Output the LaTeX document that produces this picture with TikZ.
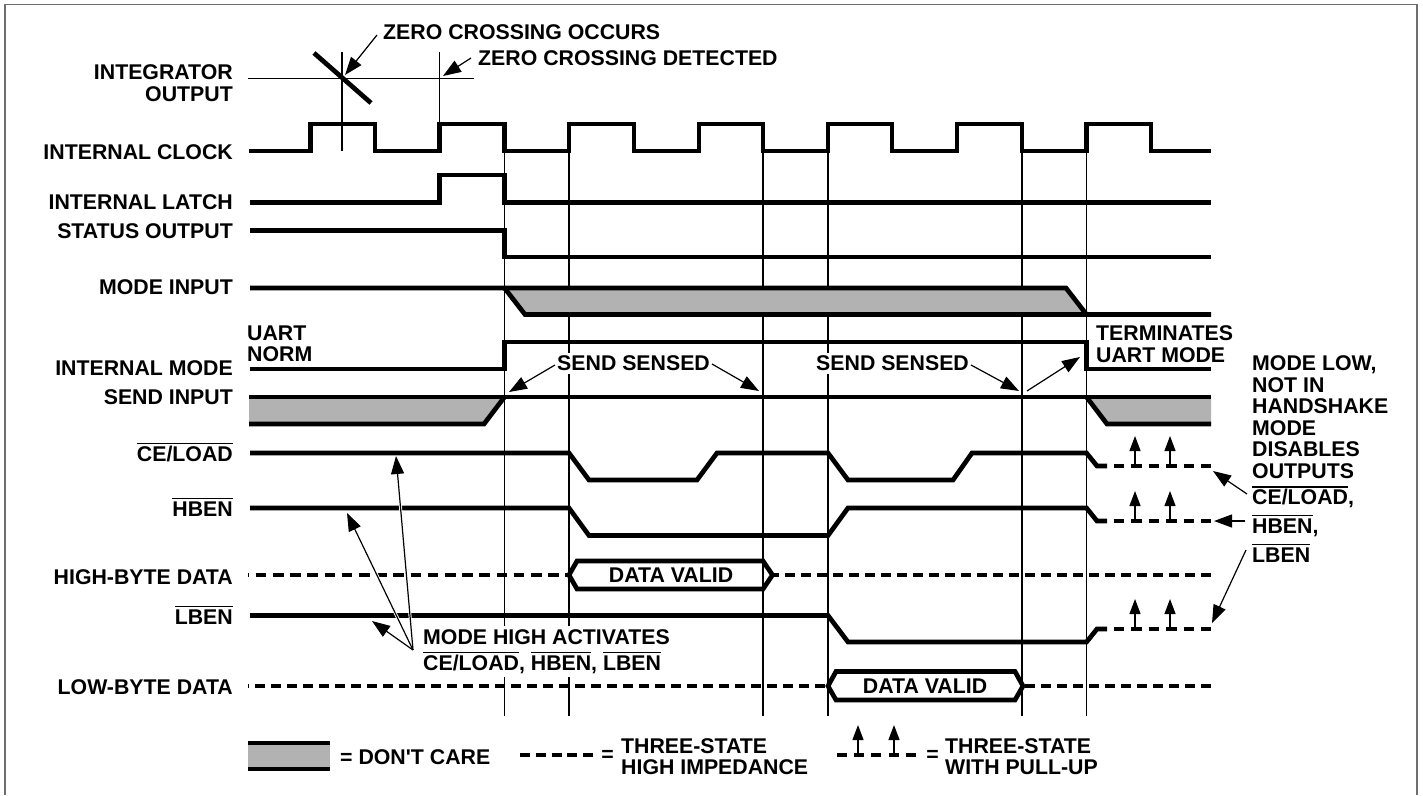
\documentclass[tikz,border=0pt]{standalone}
\usepackage{fontspec}
\setmainfont{Liberation Sans}
\usetikzlibrary{arrows.meta}
\definecolor{dcgray}{HTML}{B2B2B2}
\definecolor{framegray}{HTML}{6E6E6E}
\newcommand{\ovl}[1]{\setbox0=\hbox{#1}\rlap{\raisebox{17.3pt}{\rule{\wd0}{1.2pt}}}\box0}
\tikzset{
  lbl/.style={font=\fontsize{21.3}{21.3}\bfseries\selectfont,inner sep=0pt},
  rlab/.style={lbl,anchor=east,align=right},
  llab/.style={lbl,anchor=north west,align=left},
  blk/.style={lbl,anchor=north west,align=left,fill=white,inner xsep=3pt,inner ysep=3pt},
  sig/.style={line width=4.7pt,miter limit=10},
  tri/.style={line width=4.7pt,dash pattern=on 10.5pt off 7pt},
  dataL/.style={line width=4.7pt,dash pattern=on 10.6pt off 6.6pt},
  dataR/.style={line width=4.7pt,dash pattern=on 10.4pt off 5.6pt},
  thin line/.style={line width=1.1pt},
  call/.style={line width=1.2pt,-{Triangle[length=18pt,width=13pt]}},
  pull/.style={line width=1.2pt,-{Triangle[length=15pt,width=11pt]}},
  halo/.style={line width=3pt,white},
}
\begin{document}
\begin{tikzpicture}[x=1pt,y=-1pt]
\useasboundingbox (0,0) rectangle (1423,795);
\fill[white] (0,0) rectangle (1423,795);
% frame (open at the cropped bottom)
\draw[framegray,line width=1.6pt] (5,795) -- (5,4.5) -- (1417,4.5) -- (1417,795);

% thin guide lines
\draw[thin line] (248,78.3) -- (474,78.3);
\draw[thin line] (342,52) -- (342,151);
\draw[thin line] (439.5,52) -- (439.5,124);
\foreach \x in {504.5,569,763,828,1022,1086.5}
  \draw[thin line] (\x,151) -- (\x,715.5);

% gray regions
\fill[dcgray] (504.5,288) -- (1066,288) -- (1086.5,314.5) -- (525,314.5) -- cycle;
\fill[dcgray] (249,397) -- (504.5,397) -- (484,424) -- (249,424) -- cycle;
\fill[dcgray] (1086.5,397) -- (1211,397) -- (1211,424) -- (1107,424) -- cycle;

% labels
\node[rlab] (lInteg) at (233,83) {INTEGRATOR\\[0.5pt]OUTPUT};
\node[rlab] (lClock) at (233,152) {INTERNAL CLOCK};
\node[rlab] (lLatch) at (233,202) {INTERNAL LATCH};
\node[rlab] (lStatus) at (233,231.5) {STATUS OUTPUT};
\node[rlab] (lMode) at (233,287.5) {MODE INPUT};
\node[rlab] (lIMode) at (233,368) {INTERNAL MODE};
\node[rlab] (lSend) at (233,397) {SEND INPUT};
\node[rlab,anchor=base east] (lCE) at (233,461.5) {\ovl{CE/LOAD}};
\node[rlab,anchor=base east] (lHB) at (233,516.7) {\ovl{HBEN}};
\node[rlab] (lHD) at (233,576.7) {HIGH-BYTE DATA};
\node[rlab,anchor=base east] (lLB) at (233,624.7) {\ovl{LBEN}};
\node[rlab] (lLD) at (233,687) {LOW-BYTE DATA};

% annotations
\node[llab] (zOcc) at (383,24.5) {ZERO CROSSING OCCURS};
\node[llab] (zDet) at (478,50) {ZERO CROSSING DETECTED};
\node[llab] (uart) at (247,325.5) {UART\\[0.2pt]NORM};
\node[llab] (term) at (1096,325.5) {TERMINATES\\[0.2pt]UART MODE};
\node[blk] (ss1) at (554,352.5) {SEND SENSED};
\node[blk] (ss2) at (813,352.5) {SEND SENSED};
\node[blk] (act) at (420,626) {MODE HIGH ACTIVATES\\[5pt]\ovl{CE/LOAD}, \ovl{HBEN}, \ovl{LBEN}};
\node[llab] (low) at (1252,355.5) {MODE LOW,\\[0.3pt]NOT IN\\[0.3pt]HANDSHAKE\\[0.3pt]MODE\\[0.3pt]DISABLES\\[0.3pt]OUTPUTS\\[5pt]\ovl{CE/LOAD},\\[6pt]\ovl{HBEN},\\[6pt]\ovl{LBEN}};

% integrator
\draw[line width=4.7pt] (314,53) -- (371,103);

% clock
\draw[sig] (249,151) -- (310.5,151) -- (310.5,124) -- (375,124) -- (375,151)
  -- (439.5,151) -- (439.5,124) -- (504.5,124) -- (504.5,151)
  -- (569,151) -- (569,124) -- (634,124) -- (634,151)
  -- (699,151) -- (699,124) -- (763,124) -- (763,151)
  -- (828,151) -- (828,124) -- (892,124) -- (892,151)
  -- (957,151) -- (957,124) -- (1022,124) -- (1022,151)
  -- (1086.5,151) -- (1086.5,124) -- (1151,124) -- (1151,151) -- (1211,151);
% latch
\draw[sig] (250,202.5) -- (439.5,202.5) -- (439.5,175) -- (504.5,175) -- (504.5,202.5) -- (1211,202.5);
% status
\draw[sig] (250,230.5) -- (504.5,230.5) -- (504.5,257) -- (1211,257);
% mode input
\draw[sig] (250,288) -- (1066,288) -- (1086.5,314.5);
\draw[sig] (504.5,288) -- (525,314.5) -- (1211,314.5);
% internal mode
\draw[sig] (250,369) -- (504.5,369) -- (504.5,342) -- (1086.5,342) -- (1086.5,369) -- (1211,369);
% send
\draw[sig] (249,397) -- (1211,397);
\draw[sig] (249,424) -- (484,424) -- (504.5,397);
\draw[sig] (1086.5,397) -- (1107,424) -- (1211,424);
% CE/LOAD
\draw[sig] (250,453) -- (569,453) -- (589,480) -- (697,480) -- (717,453) -- (828,453)
  -- (848,480) -- (953,480) -- (972,453) -- (1086.5,453) -- (1097,466) -- (1107,466);
\draw[tri] (1113.5,466) -- (1211,466);
% HBEN
\draw[sig] (250,508) -- (569,508) -- (589,535.5) -- (828,535.5) -- (848,508) -- (1086.5,508) -- (1097,521) -- (1107,521);
\draw[tri] (1113.5,521) -- (1211,521);
% high byte data
\draw[dataL,dash phase=9.5pt] (248,575) -- (569,575);
\draw[sig] (772.5,575) -- (763,561) -- (577,561) -- (569,575) -- (577,589) -- (763,589) -- cycle;
\draw[dataR,dash phase=3.5pt] (772,575) -- (1211,575);
\node[lbl] (dv1) at (671,575.5) {DATA VALID};
% LBEN
\draw[sig] (250,615.5) -- (828,615.5) -- (848,642) -- (1086.5,642) -- (1097,629) -- (1107,629);
\draw[tri] (1113.5,629) -- (1211,629);
% low byte data
\draw[dataR,dash phase=9pt] (248,686) -- (828,686);
\draw[sig] (1023,686) -- (1015,671.5) -- (836,671.5) -- (828,686) -- (836,700) -- (1015,700) -- cycle;
\draw[dataR] (1024.5,686) -- (1211,686);
\node[lbl] (dv2) at (925,686.5) {DATA VALID};

% pull-up arrows
\foreach \x in {1135,1170}{
  \coordinate (pa) at (\x,466); \coordinate (pb) at (\x,436);
  \draw[pull] (pa) -- (pb);
  \coordinate (pa) at (\x,521); \coordinate (pb) at (\x,491);
  \draw[pull] (pa) -- (pb);
  \coordinate (pa) at (\x,629); \coordinate (pb) at (\x,599);
  \draw[pull] (pa) -- (pb);
}

% callout end points
\coordinate (aZ1s) at (377,35);   \coordinate (aZ1t) at (345,75);
\coordinate (aZ2s) at (471,58);   \coordinate (aZ2t) at (443,76);
\coordinate (aS1s) at (555,365);  \coordinate (aS1t) at (509,392);
\coordinate (aS2s) at (712,364);  \coordinate (aS2t) at (759,391);
\coordinate (aS3s) at (971,365);  \coordinate (aS3t) at (1019,391);
\coordinate (aS4s) at (1027,391); \coordinate (aS4t) at (1080,357);
\coordinate (aMs) at (413,650);
\coordinate (aM1) at (372,621);   \coordinate (aM2) at (347,513);   \coordinate (aM3) at (396,456);
\coordinate (aCs) at (1247,494);  \coordinate (aCt) at (1213,471);
\coordinate (aHs) at (1245,521);  \coordinate (aHt) at (1214,521);
\coordinate (aLs) at (1246,550);  \coordinate (aLt) at (1212,623);

\draw[halo] (aMs) -- (aM2);
\draw[halo] (aMs) -- (aM3);
\draw[call] (aZ1s) -- (aZ1t);
\draw[call] (aZ2s) -- (aZ2t);
\draw[call] (aS1s) -- (aS1t);
\draw[call] (aS2s) -- (aS2t);
\draw[call] (aS3s) -- (aS3t);
\draw[call] (aS4s) -- (aS4t);
\draw[call] (aMs) -- (aM1);
\draw[call] (aMs) -- (aM2);
\draw[call] (aMs) -- (aM3);
\draw[call] (aCs) -- (aCt);
\draw[call] (aHs) -- (aHt);
\draw[call] (aLs) -- (aLt);

% legend
\fill[dcgray] (248,743) rectangle (330,769);
\draw[sig] (248,743) -- (330,743);
\draw[sig] (248,769) -- (330,769);
\node[lbl,anchor=west] (lg1) at (340,757) {= DON\textquotesingle T CARE};
\draw[line width=4.7pt,dash pattern=on 10pt off 5.8pt] (520,755) -- (594,755);
\node[lbl,anchor=center] (lgE2) at (607.5,755.5) {=};
\node[llab] (lg2) at (621,738.5) {THREE-STATE\\[-0.5pt]HIGH IMPEDANCE};
\draw[line width=4.7pt,dash pattern=on 10pt off 7.2pt] (837,755) -- (917,755);
\foreach \x in {858,894}{
  \coordinate (pa) at (\x,755); \coordinate (pb) at (\x,725);
  \draw[pull] (pa) -- (pb);
}
\node[lbl,anchor=center] (lgE3) at (932.5,755.5) {=};
\node[llab] (lg3) at (945,738.5) {THREE-STATE\\[-0.5pt]WITH PULL-UP};
\end{tikzpicture}
\end{document}
